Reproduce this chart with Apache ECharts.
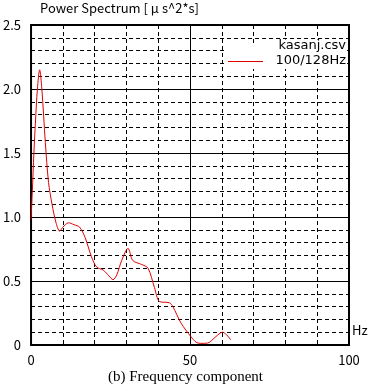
<!DOCTYPE html>
<html><head><meta charset="utf-8">
<script src="https://cdn.jsdelivr.net/npm/echarts@6/dist/echarts.min.js"></script>
<style>html,body{margin:0;padding:0;background:#fff}#c{width:371px;height:391px}</style>
</head><body><div id="c"></div>
<script>
const freqs = [0, 0.4, 0.9, 1.4, 2.0, 2.7, 3.4, 4.5, 5.5, 6.6, 7.8, 9, 10, 11.8, 13.5, 15.3, 17, 19, 20.6, 22.7, 24.5, 25.8, 27, 28.5, 30.5, 32, 34.7, 36.8, 38.8, 40.4, 43.5, 44.6, 47.2, 50.3, 52, 53.4, 55.5, 58.1, 60.2, 61.5, 62.8];
const values = [0.98, 1.2, 1.5, 1.75, 2.0, 2.15, 2.0, 1.58, 1.27, 1.1, 0.96, 0.89, 0.92, 0.955, 0.94, 0.92, 0.84, 0.69, 0.61, 0.585, 0.54, 0.51, 0.55, 0.66, 0.755, 0.66, 0.63, 0.60, 0.45, 0.34, 0.33, 0.30, 0.17, 0.065, 0.02, 0.013, 0.015, 0.065, 0.10, 0.08, 0.04];
const seriesName = '100/128Hz';
const fileName = 'kasanj.csv';
const yTitle = 'Power Spectrum [ μ s^2*s]';
const xUnit = 'Hz';
const caption = '(b) Frequency component';
const xLabels = [0, 50, 100];
const yLabels = ['0', '0.5', '1.0', '1.5', '2.0', '2.5'];

const F = "'Noto Sans CJK JP', sans-serif";
const RED = '#e00000';
const chart = echarts.init(document.getElementById('c'));
const dashed = {show: true, lineStyle: {color: '#000', type: [4, 3], width: 1}};
const solid = {show: true, lineStyle: {color: '#000', type: 'solid', width: 1}};
chart.setOption({
  animation: false,
  grid: {left: 29, right: 22, top: 25, bottom: 46, show: true, borderColor: '#000', borderWidth: 2, backgroundColor: 'transparent'},
  xAxis: [
    {type: 'value', min: 0, max: 100, interval: 10, splitLine: dashed,
     axisLine: {show: false}, axisTick: {show: false},
     axisLabel: {margin: 9, color: '#000', fontFamily: F, fontSize: 13,
       formatter: v => xLabels.indexOf(v) >= 0 ? String(v) : ''}},
    {type: 'value', min: 0, max: 100, interval: 50, splitLine: solid, position: 'bottom',
     axisLine: {show: false}, axisTick: {show: false}, axisLabel: {show: false}}
  ],
  yAxis: [
    {type: 'value', min: 0, max: 2.5, interval: 0.1, splitLine: dashed,
     axisLine: {show: false}, axisTick: {show: false}, axisLabel: {show: false}},
    {type: 'value', min: 0, max: 2.5, interval: 0.5, splitLine: solid, position: 'left',
     axisLine: {show: false}, axisTick: {show: false},
     axisLabel: {margin: 10, color: '#000', fontFamily: F, fontSize: 13,
       formatter: (v) => yLabels[Math.round(v / 0.5)]}}
  ],
  graphic: [
    {type: 'rect', shape: {x: 225, y: 45, width: 122, height: 24}, z: 90,
     style: {fill: '#fff'}},
    {type: 'line', shape: {x1: 228, y1: 61.5, x2: 263, y2: 61.5}, z: 100,
     style: {stroke: RED, lineWidth: 1}},
    {type: 'text', x: 346, y: 61, z: 100,
     style: {text: seriesName, fill: '#000', align: 'right', verticalAlign: 'middle',
             font: "13px 'DejaVu Sans', sans-serif"}},
    {type: 'text', x: 346, y: 46, z: 100,
     style: {text: fileName, fill: '#000', align: 'right', verticalAlign: 'middle',
             font: "13px 'DejaVu Sans', sans-serif", backgroundColor: '#fff'}},
    {type: 'text', left: 40, top: 2,
     style: {text: yTitle, fill: '#000', font: "13px 'Noto Sans CJK JP', sans-serif"}},
    {type: 'text', left: 352, top: 324,
     style: {text: xUnit, fill: '#000', font: "13px 'Noto Sans CJK JP', sans-serif"}},
    {type: 'text', left: 'center', top: 370,
     style: {text: caption, fill: '#000', font: "15px 'Liberation Serif', serif"}}
  ],
  series: [{
    name: seriesName, type: 'line', xAxisIndex: 0, yAxisIndex: 0,
    data: freqs.map((f, i) => [f, values[i]]),
    symbol: 'none', smooth: 0.3,
    lineStyle: {color: RED, width: 1}, itemStyle: {color: RED}
  }]
});
</script></body></html>
